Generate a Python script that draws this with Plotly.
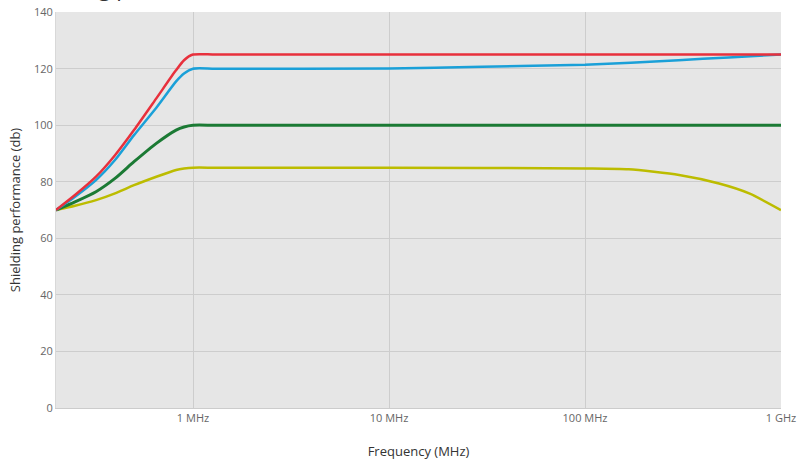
import plotly.graph_objects as go

# Frequencies (MHz) and shielding performance (dB)
freq_rise = [0.2, 0.25, 0.32, 0.4, 0.5, 0.65, 0.82, 0.9, 1.0]
red_rise = [70, 75.3, 81.8, 89.4, 98.3, 109.5, 119.5, 123.0, 125]
blue_rise = [70, 74.7, 80.6, 87.7, 96.5, 106.2, 115.5, 118.3, 120]
green_rise = [70, 72.9, 76.5, 81.2, 87.1, 93.6, 98.3, 99.4, 100]
yellow_rise = [70, 71.5, 73.5, 75.9, 78.8, 81.8, 84.2, 84.7, 85]

red_freq = freq_rise + [1.3, 10, 100, 1000]
red_vals = red_rise + [125, 125, 125, 125]

blue_freq = freq_rise + [1.3, 10, 30, 100, 300, 540, 1000]
blue_vals = blue_rise + [120, 120.1, 120.7, 121.4, 123.0, 124.0, 125]

green_freq = freq_rise + [1.3, 10, 100, 1000]
green_vals = green_rise + [100, 100, 100, 100]

yellow_freq = freq_rise + [1.3, 10, 100, 167, 302, 483, 688, 1000]
yellow_vals = yellow_rise + [85, 85, 84.7, 84.4, 82.4, 79.4, 75.9, 70]

x_tick_vals = [1, 10, 100, 1000]
x_tick_text = ["1 MHz", "10 MHz", "100 MHz", "1 GHz"]
y_tick_vals = [0, 20, 40, 60, 80, 100, 120, 140]

series = [
    ("yellow", yellow_freq, yellow_vals, "#bcbc00", 2.5),
    ("green", green_freq, green_vals, "#1b7a34", 3),
    ("blue", blue_freq, blue_vals, "#1aa0d8", 2.5),
    ("red", red_freq, red_vals, "#e8303c", 2.5),
]

fig = go.Figure()
for name, xs, ys, col, w in series:
    fig.add_trace(go.Scatter(
        x=xs, y=ys, mode="lines", name=name,
        line=dict(color=col, width=w, shape="spline", smoothing=0.6),
        showlegend=False, hoverinfo="skip",
    ))

fig.update_layout(
    width=798, height=462,
    margin=dict(l=56, r=17, t=12, b=54, autoexpand=False),
    paper_bgcolor="white",
    plot_bgcolor="#e6e6e6",
    font=dict(family="Open Sans", color="#666666", size=11),
    xaxis=dict(
        type="log",
        range=[-0.69897, 3],
        tickvals=x_tick_vals,
        ticktext=x_tick_text,
        showgrid=True, gridcolor="#cdcdcd", gridwidth=1,
        zeroline=False,
        showline=True, linecolor="#cccccc", linewidth=1,
        ticks="", ticklen=0,
        automargin=False,
        title=dict(text="Frequency (MHz)", font=dict(size=13, color="#333333"), standoff=22),
        tickfont=dict(size=11, color="#666666"),
    ),
    yaxis=dict(
        range=[0, 140.05],
        tickvals=y_tick_vals,
        showgrid=True, gridcolor="#cdcdcd", gridwidth=1,
        zeroline=False,
        showline=True, linecolor="#d8d8d8", linewidth=1,
        ticks="",
        automargin=False,
        title=dict(text="Shielding performance (db)", font=dict(size=13, color="#333333"), standoff=10),
        tickfont=dict(size=11, color="#666666"),
    ),
    annotations=[dict(
        text="Shielding performance",
        xref="paper", yref="paper", x=-0.057, y=1.0, yshift=25,
        xanchor="left", yanchor="middle", showarrow=False,
        font=dict(family="Open Sans", size=22, color="#333333"),
    )],
)

fig.write_html(
    "out.html",
    config={"displayModeBar": False},
    post_script="document.body.style.margin='0';document.body.style.overflow='hidden';",
)
